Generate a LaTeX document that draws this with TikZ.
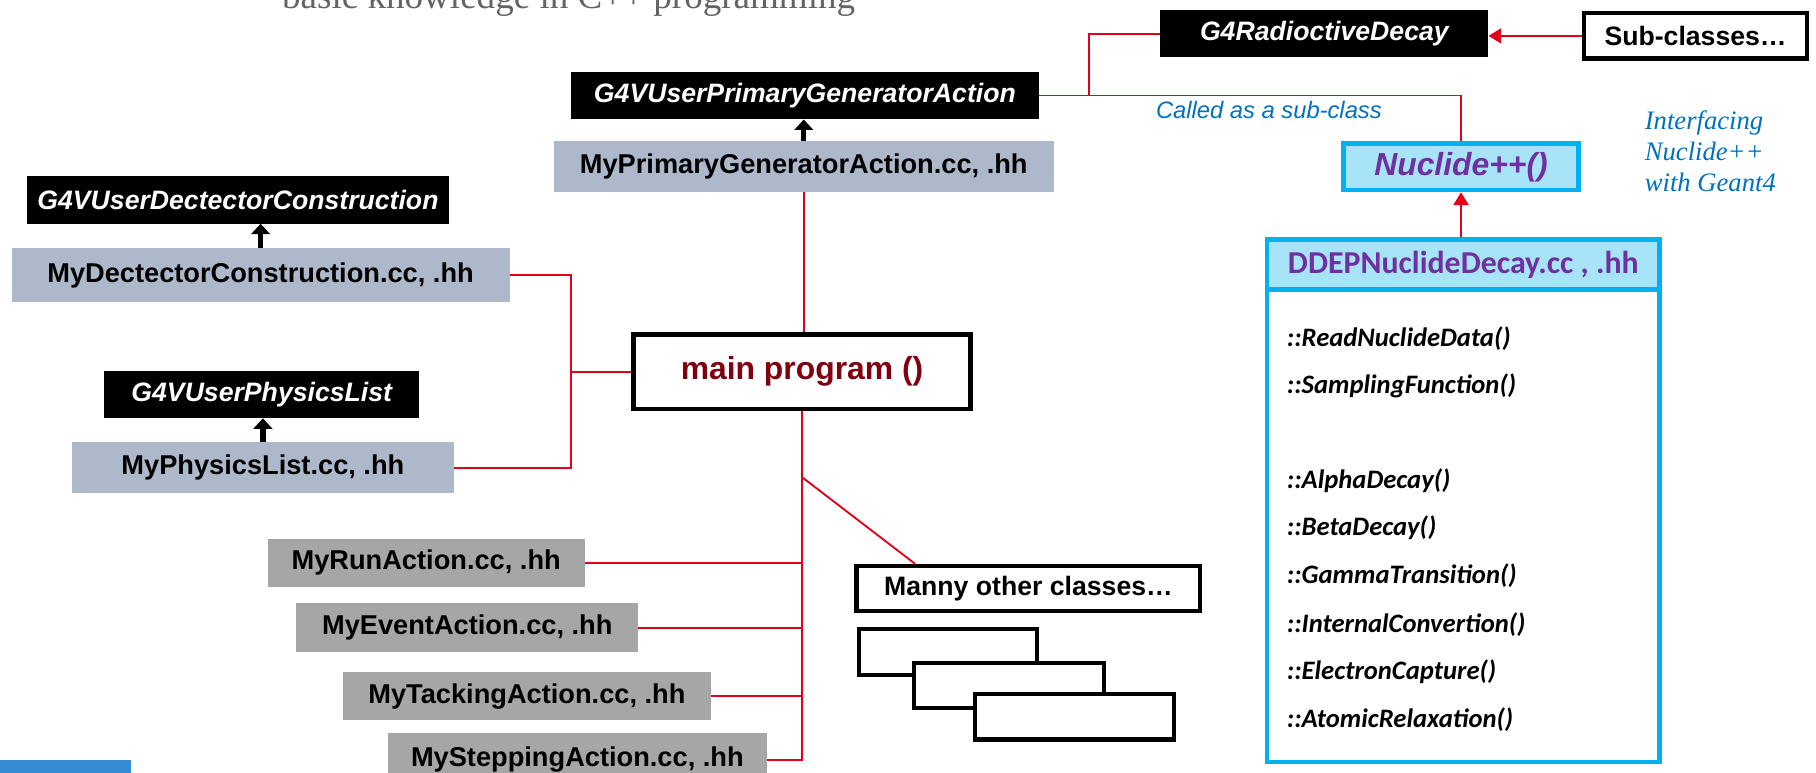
\documentclass[tikz,border=0pt]{standalone}
\usepackage{fontspec}
\setmainfont{Liberation Sans}
\newfontfamily\calfont{Carlito}
\newfontfamily\seriffont{Liberation Serif}
\usetikzlibrary{arrows.meta,calc}
\definecolor{linkred}{RGB}{226,0,26}
\definecolor{slategray}{RGB}{173,185,202}
\definecolor{boxgray}{RGB}{166,166,166}
\definecolor{nuccyan}{RGB}{0,176,240}
\definecolor{nucfill}{RGB}{168,228,248}
\definecolor{nucpurple}{RGB}{112,48,160}
\definecolor{maindark}{RGB}{128,0,16}
\definecolor{noteblue}{RGB}{0,112,192}
\definecolor{toptext}{RGB}{100,100,100}
\definecolor{footblue}{RGB}{52,140,210}

\begin{document}
\begin{tikzpicture}[x=1pt,y=-1pt,
  baseclass/.style={fill=black,text=white,inner sep=0pt,minimum height=41pt,font=\fontsize{23}{27}\selectfont\bfseries\itshape},
  userclass/.style={fill=slategray,inner sep=0pt,minimum height=44pt,font=\fontsize{23.5}{27}\selectfont\bfseries},
  actionclass/.style={fill=boxgray,inner sep=0pt,minimum height=42pt,font=\fontsize{23.5}{27}\selectfont\bfseries},
  plainbox/.style={draw=black,fill=white,line width=3.5pt,inner sep=0pt,minimum height=39pt,font=\fontsize{23}{27}\selectfont\bfseries},
  nucbox/.style={draw=nuccyan,fill=nucfill,line width=4pt,inner sep=0pt},
  method/.style={anchor=west,inner sep=0pt,font=\calfont\fontsize{23}{27}\selectfont\bfseries\itshape},
  redline/.style={draw=linkred,line width=1.6pt},
  redarrow/.style={redline,-{Triangle[width=13pt,length=11pt]}},
  blackarrow/.style={draw=black,line width=4.5pt,-{Triangle[width=16pt,length=9pt]}}
]
\useasboundingbox (0,0) rectangle (1568,667);

\node[anchor=base,inner sep=0pt,text=toptext,font=\seriffont\fontsize{32}{36}\selectfont] (title) at (491,7) {basic knowledge in C++ programming};

% Geant4 base classes and user classes
\node[baseclass,minimum width=283pt] (rdec) at (1143.5,29) {G4RadioctiveDecay};
\node[plainbox,minimum width=192pt] (subcl) at (1464,31) {Sub-classes…};
\node[baseclass,minimum width=404pt] (gpga) at (695,82.5) {G4VUserPrimaryGeneratorAction};
\node[userclass,minimum width=432pt] (pga) at (694,144) {MyPrimaryGeneratorAction.cc, .hh};
\node[plainbox,line width=4pt,minimum width=291pt,minimum height=64pt,text=maindark,font=\fontsize{27.5}{30}\selectfont\bfseries] (mainprog) at (692.5,321) {main program ()};
\node[baseclass,minimum width=365pt] (gdet) at (205.5,172.5) {G4VUserDectectorConstruction};
\node[userclass,minimum width=430pt,minimum height=47pt] (det) at (225,237.5) {MyDectectorConstruction.cc, .hh};
\node[baseclass,minimum width=272pt] (gphys) at (226,340.5) {G4VUserPhysicsList};
\node[userclass,minimum width=330pt] (phys) at (227,404) {MyPhysicsList.cc, .hh};

% action classes
\node[actionclass,minimum width=274pt] (run) at (368,486) {MyRunAction.cc, .hh};
\node[actionclass,minimum width=295pt] (event) at (403.5,542) {MyEventAction.cc, .hh};
\node[actionclass,minimum width=318pt] (track) at (455,601) {MyTackingAction.cc, .hh};
\node[actionclass,minimum width=327pt,minimum height=46pt] (step) at (498.5,656) {MySteppingAction.cc, .hh};

\node[plainbox,minimum width=297pt] (others) at (888,508) {Manny other classes…};
\node[plainbox,minimum width=154pt] (stacka) at (818.5,563) {};
\node[plainbox,minimum width=164pt] (stackb) at (871.5,592) {};
\node[plainbox,minimum width=172pt] (stackc) at (927.5,619) {};

% Nuclide++ side
\node[nucbox,minimum width=203pt,minimum height=40pt,text=nucpurple,font=\fontsize{27.5}{30}\selectfont\bfseries\itshape] (nucl) at (1261.5,144) {Nuclide++()};
\node[draw=nuccyan,line width=4pt,minimum width=339pt,minimum height=451pt,anchor=north,inner sep=0pt] (ddepbody) at (1263.5,205) {};
\node[nucbox,minimum width=339pt,minimum height=43pt,anchor=north,text=nucpurple,font=\calfont\fontsize{27.5}{30}\selectfont\bfseries] (ddep) at (1263.5,205) {DDEPNuclideDecay.cc , .hh};

\node[method] (readdata) at (1111,292) {::ReadNuclideData()};
\node[method] (sampling) at (1111,333) {::SamplingFunction()};
\node[method] (alpha) at (1111,415) {::AlphaDecay()};
\node[method] (beta) at (1111,456) {::BetaDecay()};
\node[method] (gamma) at (1111,497) {::GammaTransition()};
\node[method] (intconv) at (1111,539) {::InternalConvertion()};
\node[method] (eccapt) at (1111,580) {::ElectronCapture()};
\node[method] (atrelax) at (1111,621) {::AtomicRelaxation()};

\node[anchor=west,inner sep=0pt,text=noteblue,font=\fontsize{20.5}{24}\selectfont\itshape] (calledas) at (998,95) {Called as a sub-class};
\node[anchor=north west,inner sep=0pt,align=left,text=noteblue,font=\seriffont\fontsize{23}{27}\selectfont\itshape] (interf) at (1420,95) {Interfacing\\Nuclide++\\with Geant4};

\fill[footblue] (0,656) rectangle (113,667);

% inheritance arrows
\draw[blackarrow] (pga.north) -- (pga.north |- gpga.south);
\draw[blackarrow] (det.north) -- (det.north |- gdet.south);
\draw[blackarrow] (phys.north) -- (phys.north |- gphys.south);
\draw[redarrow] (subcl.west) -- (subcl.west -| rdec.east);
\draw[redarrow] (nucl.south |- ddep.north) -- (nucl.south);

% red links
\coordinate (tsplit) at (940,82.5);
\draw[redline] (gpga.east) -- (tsplit) |- (rdec.west);
\draw[redline] (tsplit) -| (nucl.north);

\coordinate (ljoin) at (493,321);
\draw[redline] (det.east) -| (ljoin) |- (phys.east);
\draw[redline] (ljoin) -- (mainprog.west);
\draw[redline] (pga.south) -- (pga.south |- mainprog.north);

\draw[redline] (mainprog.south) -- (mainprog.south |- step.east) -- (step.east);
\draw[redline] (run.east) -- (run.east -| mainprog.south);
\draw[redline] (event.east) -- (event.east -| mainprog.south);
\draw[redline] (track.east) -- (track.east -| mainprog.south);
\coordinate (diagstart) at (692.5,412);
\draw[redline] (diagstart) -- ([xshift=-98pt]others.north);

\end{tikzpicture}
\end{document}
